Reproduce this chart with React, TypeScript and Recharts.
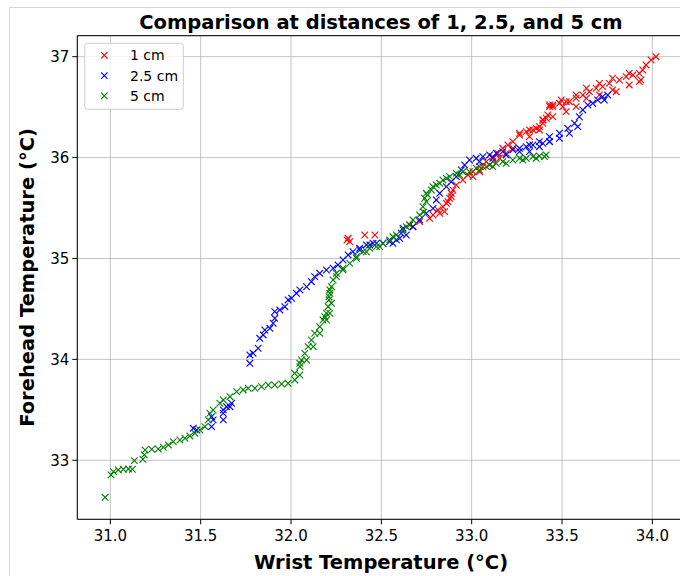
import React from 'react';
import { ScatterChart, Scatter, XAxis, YAxis, CartesianGrid } from 'recharts';

const xTicks = [31.0, 31.5, 32.0, 32.5, 33.0, 33.5, 34.0];
const yTicks = [33, 34, 35, 36, 37];
const xDomain = [30.817, 34.183];
const yDomain = [32.415, 37.208];

const seriesNames = ['1 cm', '2.5 cm', '5 cm'];
const seriesColors = ['#ff0000', '#0000ff', '#008000'];

const oneCm: [number, number][] = [
  [32.316,35.2],[32.325,35.167],[32.31,35.183],[32.408,35.233],[32.464,35.233],[32.657,35.332],[32.675,35.315],
  [32.712,35.365],[32.767,35.398],[32.786,35.431],[32.813,35.481],[32.841,35.513],[32.86,35.547],[32.878,35.597],
  [32.887,35.646],[32.896,35.679],[32.915,35.728],[32.951,35.778],[32.979,35.828],[33.007,35.86],[33.044,35.91],
  [33.081,35.96],[33.117,36.009],[33.145,36.043],[33.172,36.092],[33.2,36.125],[33.228,36.158],[33.265,36.224],
  [33.265,36.241],[33.302,36.257],[33.32,36.274],[33.339,36.274],[33.357,36.29],[33.375,36.307],[33.394,36.34],
  [33.394,36.373],[33.413,36.39],[33.421,36.422],[33.431,36.505],[33.449,36.505],[33.431,36.521],[33.486,36.538],
  [33.495,36.571],[33.505,36.505],[33.541,36.554],[33.578,36.588],[33.615,36.62],[33.652,36.653],[33.689,36.687],
  [33.725,36.703],[33.762,36.736],[33.8,36.653],[33.818,36.769],[33.855,36.802],[33.892,36.819],[33.928,36.835],
  [33.937,36.769],[33.947,36.868],[33.965,36.918],[33.993,36.967],[34.02,37.0],
  [33.635,36.687],[33.707,36.736],[33.78,36.786],[33.872,36.835],[33.635,36.588],[33.707,36.62],[33.78,36.67],
  [33.872,36.72],[33.928,36.753],[33.32,36.208],[33.375,36.274],[33.449,36.405],[33.523,36.455],[33.578,36.505],
  [33.394,36.373],[33.449,36.521],[33.523,36.554],[33.578,36.62],
  [33.007,35.811],[33.044,35.86],[33.081,35.91],[33.117,35.96],[33.154,35.993],[33.191,36.043],[33.228,36.092],
  [32.869,35.563],[32.887,35.613],[32.85,35.464],[32.823,35.448],
];

const twoHalfCm: [number, number][] = [
  [31.459,33.317],[31.478,33.3],[31.56,33.333],[31.569,33.4],[31.56,33.432],[31.625,33.4],[31.625,33.466],
  [31.625,33.499],[31.643,33.531],[31.662,33.531],[31.671,33.565],
  [31.772,33.961],[31.772,34.044],[31.79,34.061],[31.818,34.11],[31.827,34.209],[31.846,34.242],[31.855,34.291],
  [31.883,34.308],[31.901,34.358],[31.91,34.407],[31.91,34.473],[31.938,34.49],[31.966,34.522],[31.984,34.589],
  [32.003,34.606],[32.03,34.655],[32.049,34.688],[32.086,34.72],[32.113,34.77],[32.131,34.82],[32.159,34.853],
  [32.196,34.886],[32.233,34.903],[32.26,34.936],[32.288,34.985],[32.316,35.035],[32.343,35.068],[32.38,35.084],
  [32.38,35.101],[32.417,35.134],[32.436,35.134],[32.454,35.151],[32.473,35.151],[32.509,35.151],[32.546,35.167],
  [32.564,35.151],[32.583,35.184],[32.601,35.2],[32.61,35.25],[32.62,35.3],[32.638,35.233],[32.675,35.315],
  [32.712,35.382],[32.749,35.448],[32.786,35.497],[32.804,35.58],[32.823,35.646],[32.86,35.712],[32.887,35.761],
  [32.915,35.811],[32.943,35.877],[32.961,35.927],[32.988,35.976],[33.025,35.993],[33.062,36.009],[33.099,36.026],
  [33.136,36.043],[33.172,36.059],[33.228,36.076],[33.265,36.092],[33.302,36.108],[33.32,36.125],[33.339,36.125],
  [33.375,36.158],[33.394,36.141],[33.431,36.158],[33.431,36.207],[33.486,36.241],[33.532,36.29],[33.569,36.34],
  [33.596,36.405],[33.615,36.472],[33.643,36.521],[33.67,36.538],[33.697,36.571],[33.734,36.571],[33.725,36.604],
  [33.753,36.62],
  [33.32,36.059],[33.375,36.108],[33.431,36.158],[33.486,36.191],[33.541,36.241],[33.587,36.307],
  [33.044,35.96],[33.117,35.993],[33.191,36.026],[33.265,36.059],
];

const fiveCm: [number, number][] = [
  [30.971,32.633],[31.004,32.855],[31.017,32.887],[31.044,32.904],[31.072,32.911],[31.1,32.914],[31.122,32.911],
  [31.133,32.996],[31.18,33.01],[31.188,33.053],[31.192,33.102],[31.229,33.109],[31.265,33.112],[31.293,33.129],
  [31.321,33.152],[31.348,33.185],[31.385,33.201],[31.413,33.218],[31.44,33.241],[31.468,33.268],[31.496,33.3],
  [31.523,33.333],[31.542,33.4],[31.551,33.466],[31.569,33.498],[31.606,33.565],[31.625,33.598],[31.662,33.63],
  [31.699,33.68],[31.735,33.697],[31.763,33.714],[31.8,33.714],[31.837,33.73],[31.874,33.746],[31.91,33.746],
  [31.948,33.756],[31.984,33.763],[32.021,33.796],[32.049,33.845],
  [32.02,33.862],[32.049,33.928],[32.049,33.961],[32.058,33.994],[32.076,34.06],[32.095,34.126],[32.113,34.192],
  [32.131,34.259],[32.159,34.324],[32.177,34.39],[32.187,34.423],[32.196,34.457],[32.205,34.522],[32.21,34.589],
  [32.21,34.621],[32.215,34.655],[32.215,34.688],[32.224,34.72],[32.233,34.787],[32.251,34.82],[32.251,34.853],
  [32.288,34.886],[32.288,34.903],[32.325,34.952],[32.362,35.002],[32.362,35.018],[32.399,35.068],[32.417,35.067],
  [32.436,35.101],[32.473,35.117],[32.491,35.117],[32.509,35.151],[32.546,35.184],[32.564,35.216],[32.583,35.233],
  [32.62,35.283],[32.638,35.315],[32.657,35.332],[32.675,35.382],[32.712,35.431],[32.734,35.46],[32.73,35.513],
  [32.74,35.597],[32.756,35.63],[32.749,35.646],[32.777,35.679],[32.804,35.728],[32.841,35.778],[32.878,35.811],
  [32.915,35.844],[32.951,35.86],[32.988,35.86],[33.025,35.894],[33.062,35.91],[33.099,35.927],[33.136,35.943],
  [33.172,35.96],[33.228,35.976],[33.265,35.993],[33.302,35.993],[33.339,36.009],[33.375,36.016],[33.412,36.026],
  [32.749,35.563],[32.786,35.712],[32.823,35.745],[32.86,35.794],[32.934,35.827],[33.044,35.877],[33.117,35.91],
  [33.191,35.943],[33.283,35.976],[33.357,35.993],[33.403,36.009],
  [32.196,34.39],[32.159,34.259],[32.123,34.126],[32.086,33.994],[32.224,34.556],[32.215,34.457],
];

const toRows = (pts: [number, number][]) => pts.map(([x, y]) => ({ x, y }));

const FONT = 'DejaVu Sans';

const makeCross = (color: string) => (props: any) => {
  const { cx, cy } = props;
  if (cx == null || cy == null) return <g />;
  const s = 3.3;
  return (
    <path
      d={`M${cx - s},${cy - s}L${cx + s},${cy + s}M${cx - s},${cy + s}L${cx + s},${cy - s}`}
      stroke={color}
      strokeWidth={1.1}
      fill="none"
    />
  );
};

const W = 700;
const H = 576;
const plotLeft = 77.3;
const plotTop = 35.7;
const plotRight = 685.4;
const plotBottom = 519.3;

export default function App() {
  const seriesData = [oneCm, twoHalfCm, fiveCm];
  return (
    <div style={{ position: 'absolute', left: 0, top: 0, width: 680, height: 576, overflow: 'hidden', background: '#fff' }}>
      <div style={{ position: 'absolute', left: 9, top: 7, width: 720, height: 620, border: '1px solid #d6d6d6', boxSizing: 'border-box' }} />
      <div style={{ position: 'absolute', left: 0, top: 0 }}>
        <ScatterChart
          width={W}
          height={H}
          margin={{ top: plotTop, right: W - plotRight, bottom: H - plotBottom - 40, left: plotLeft - 60 }}
        >
          <CartesianGrid stroke="#b0b0b0" strokeOpacity={0.75} strokeWidth={1} />
          <XAxis
            type="number"
            dataKey="x"
            domain={xDomain}
            ticks={xTicks}
            allowDataOverflow
            height={40}
            tickFormatter={(v: number) => v.toFixed(1)}
            tick={{ fill: '#000', fontSize: 15, fontFamily: FONT }}
            tickSize={5}
            tickMargin={6}
            axisLine={{ stroke: '#000', strokeWidth: 1 }}
            tickLine={{ stroke: '#000' }}
          />
          <YAxis
            type="number"
            dataKey="y"
            domain={yDomain}
            ticks={yTicks}
            allowDataOverflow
            width={60}
            tick={{ fill: '#000', fontSize: 15, fontFamily: FONT }}
            tickSize={5}
            tickMargin={3}
            axisLine={{ stroke: '#000', strokeWidth: 1 }}
            tickLine={{ stroke: '#000' }}
          />
          {seriesData.map((pts, i) => (
            <Scatter
              key={seriesNames[i]}
              name={seriesNames[i]}
              data={toRows(pts)}
              shape={makeCross(seriesColors[i])}
              isAnimationActive={false}
            />
          ))}
        </ScatterChart>
      </div>
      <svg width={W} height={H} style={{ position: 'absolute', left: 0, top: 0, pointerEvents: 'none' }}>
        <line x1={plotLeft} y1={plotTop} x2={plotRight} y2={plotTop} stroke="#000" strokeWidth={1} />
        <line x1={plotRight} y1={plotTop} x2={plotRight} y2={plotBottom} stroke="#000" strokeWidth={1} />
        <text x={381} y={29} textAnchor="middle" fontFamily={FONT} fontWeight="bold" fontSize={19.5} fill="#000">
          Comparison at distances of 1, 2.5, and 5 cm
        </text>
        <text x={381} y={569} textAnchor="middle" fontFamily={FONT} fontWeight="bold" fontSize={19.5} fill="#000">
          Wrist Temperature (°C)
        </text>
        <text
          x={0}
          y={0}
          transform={`translate(34,${(plotTop + plotBottom) / 2}) rotate(-90)`}
          textAnchor="middle"
          fontFamily={FONT}
          fontWeight="bold"
          fontSize={19.5}
          fill="#000"
        >
          Forehead Temperature (°C)
        </text>
        <rect x={84.7} y={43.3} width={98.6} height={66} rx={3} fill="#fff" fillOpacity={0.8} stroke="#cccccc" strokeWidth={1} />
        {seriesNames.map((n, i) => {
          const cy = 55.3 + i * 20.3;
          const cx = 104.3;
          const s = 3.2;
          return (
            <g key={n}>
              <path
                d={`M${cx - s},${cy - s}L${cx + s},${cy + s}M${cx - s},${cy + s}L${cx + s},${cy - s}`}
                stroke={seriesColors[i]}
                strokeWidth={1.1}
                fill="none"
              />
              <text x={130} y={cy + 5} fontFamily={FONT} fontSize={14} fill="#000">
                {n}
              </text>
            </g>
          );
        })}
      </svg>
    </div>
  );
}
